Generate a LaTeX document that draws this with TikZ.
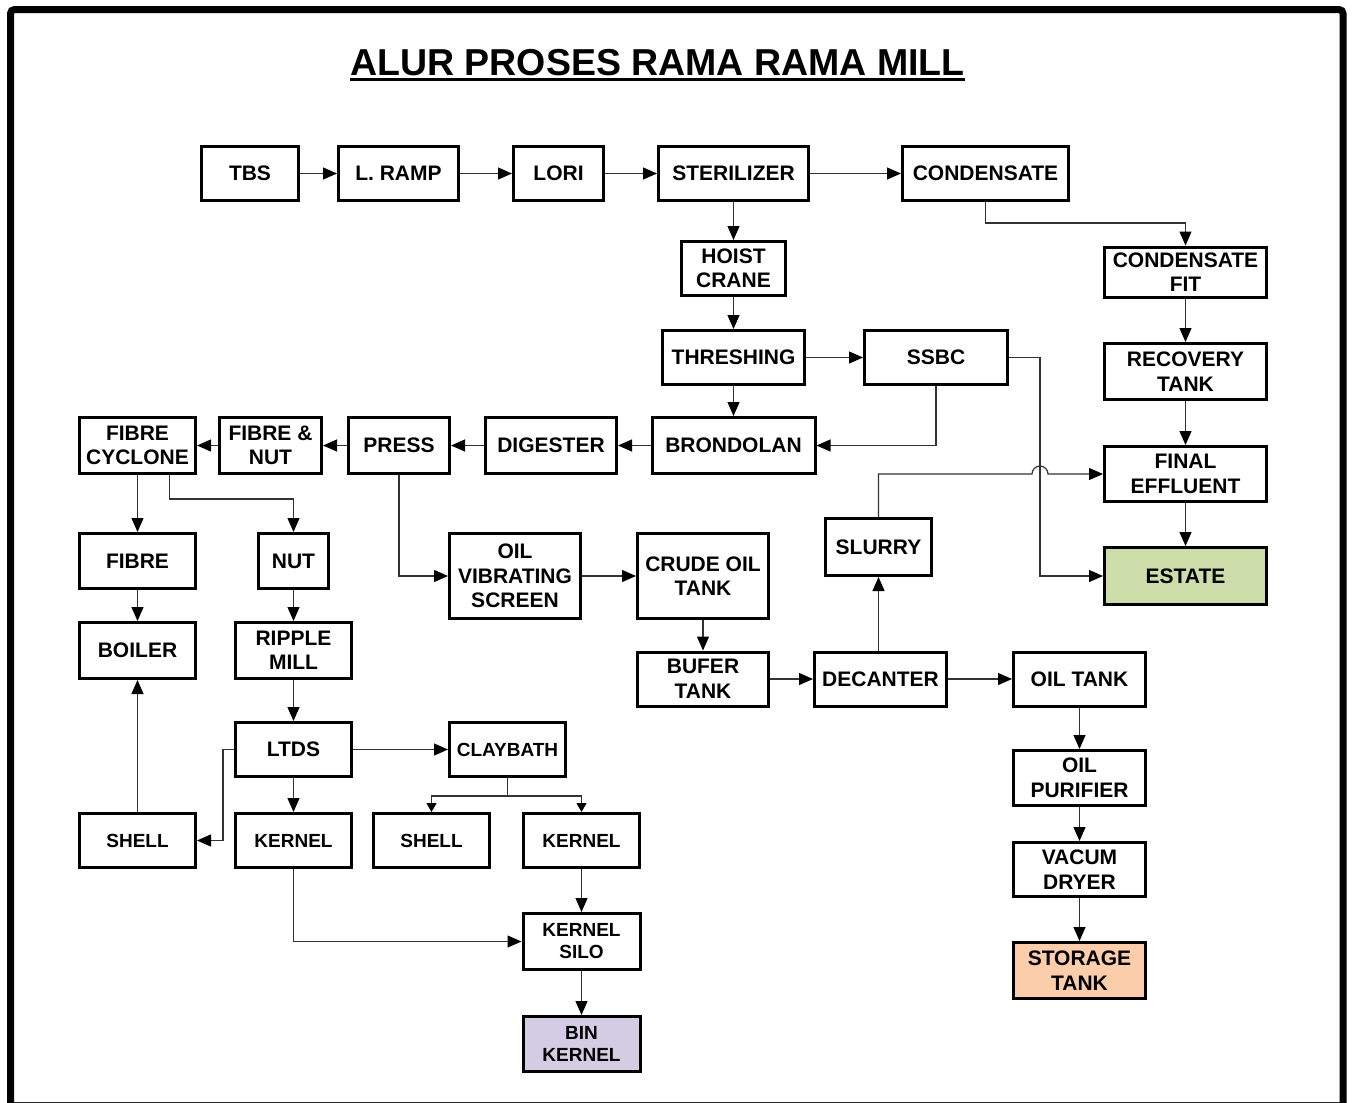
\documentclass[tikz,border=0pt]{standalone}
\usepackage{fontspec}
\setmainfont{Liberation Sans}
\usepackage{tikz}
\usetikzlibrary{arrows.meta, positioning}

\definecolor{estategreen}{RGB}{204,221,170}
\definecolor{storagepeach}{RGB}{251,205,170}
\definecolor{binlilac}{RGB}{211,204,226}

\begin{document}
\begin{tikzpicture}[
  x=1pt, y=-1pt,
  stage/.style={draw, line width=3pt, align=center, inner sep=0pt,
    minimum height=54pt, font=\fontsize{21}{24.5}\selectfont\bfseries},
  minor/.style={stage, font=\fontsize{19}{22}\selectfont\bfseries},
  flow/.style={draw=black!80, line width=1.2pt,
    -{Triangle[length=14pt, width=12pt, color=black]}},
  twig/.style={flow, -{Triangle[length=9pt, width=10pt, color=black]}},
  ]
  \useasboundingbox (0,0) rectangle (1353,1103);

  % --- page frame ---
  \draw[line width=7pt, rounded corners=4pt] (10.5,9.5) rectangle (1343,1115);
  \draw[line width=1pt, black!85] (14,1102) -- (1340,1102);

  % --- title ---
  \node[anchor=base, inner sep=0pt, font=\fontsize{37.5}{40}\selectfont\bfseries]
    (title) at (657.5,75) {ALUR PROSES RAMA RAMA MILL};
  \draw[line width=3pt] ([yshift=-4.5pt]title.base west) -- ([yshift=-4.5pt]title.base east);

  % --- receiving line ---
  \node[stage, minimum width=97pt]  (tbs)    at (250,173.5)   {TBS};
  \node[stage, minimum width=120pt] (lramp)  at (398.5,173.5) {L. RAMP};
  \node[stage, minimum width=90pt]  (lori)   at (558.5,173.5) {LORI};
  \node[stage, minimum width=150pt] (steril) at (733.5,173.5) {STERILIZER};
  \node[stage, minimum width=166pt] (cond)   at (985.5,173.5) {CONDENSATE};

  \node[stage, minimum width=104pt] (hoist)  at (733.5,268.5) {HOIST\\CRANE};
  \node[stage, minimum width=142pt] (thresh) at (733.5,357.5) {THRESHING};
  \node[stage, minimum width=143pt] (ssbc)   at (936,357.5)   {SSBC};

  % --- effluent column ---
  \node[stage, minimum width=162pt, minimum height=50pt] (condfit) at (1185.5,272) {CONDENSATE\\FIT};
  \node[stage, minimum width=162pt, minimum height=56pt] (recov)   at (1185.5,371.5) {RECOVERY\\TANK};
  \node[stage, minimum width=162pt, minimum height=55pt] (feff)    at (1185.5,474) {FINAL\\EFFLUENT};
  \node[stage, minimum width=162pt, minimum height=57pt, fill=estategreen] (estate) at (1185.5,576) {ESTATE};

  % --- pressing line ---
  \node[stage, minimum width=116pt, minimum height=56pt] (fcyc) at (137.5,445.5) {FIBRE\\CYCLONE};
  \node[stage, minimum width=102pt, minimum height=56pt] (fnut) at (270.5,445.5) {FIBRE \&\\NUT};
  \node[stage, minimum width=101pt, minimum height=56pt] (press)  at (399,445.5) {PRESS};
  \node[stage, minimum width=131pt, minimum height=56pt] (digest) at (551,445.5) {DIGESTER};
  \node[stage, minimum width=163pt, minimum height=56pt] (brond)  at (733.5,445.5) {BRONDOLAN};

  % --- oil line ---
  \node[stage, minimum width=131pt, minimum height=85pt] (ovs)   at (515,576) {OIL\\VIBRATING\\SCREEN};
  \node[stage, minimum width=131pt, minimum height=85pt] (crude) at (703,576) {CRUDE OIL\\TANK};
  \node[stage, minimum width=106pt, minimum height=57pt] (slurry) at (878.5,547) {SLURRY};
  \node[stage, minimum width=131pt] (bufer)   at (703,679)    {BUFER\\TANK};
  \node[stage, minimum width=132pt] (decant)  at (880.5,679)  {DECANTER};
  \node[stage, minimum width=132pt] (oiltank) at (1079.5,679) {OIL TANK};
  \node[stage, minimum width=132pt, minimum height=55pt] (purif) at (1079.5,778) {OIL\\PURIFIER};
  \node[stage, minimum width=132pt] (vacum) at (1079.5,869.5) {VACUM\\DRYER};
  \node[stage, minimum width=132pt, minimum height=56pt, fill=storagepeach] (storage) at (1079.5,970.5) {STORAGE\\TANK};

  % --- fibre and nut line ---
  \node[stage, minimum width=116pt, minimum height=55pt] (fibre)  at (137.5,561) {FIBRE};
  \node[stage, minimum width=70pt,  minimum height=55pt] (nut)    at (293.5,561) {NUT};
  \node[stage, minimum width=116pt, minimum height=56pt] (boiler) at (137.5,650.5) {BOILER};
  \node[stage, minimum width=116pt, minimum height=56pt] (ripple) at (293.5,650.5) {RIPPLE\\MILL};
  \node[stage, minimum width=116pt] (ltds) at (293.5,749.5) {LTDS};
  \node[minor, minimum width=116pt] (clay)   at (507.5,749.5) {CLAYBATH};
  \node[minor, minimum width=116pt] (shell1) at (137.5,840.5) {SHELL};
  \node[minor, minimum width=116pt] (kern1)  at (293.5,840.5) {KERNEL};
  \node[minor, minimum width=116pt] (shell2) at (431.5,840.5) {SHELL};
  \node[minor, minimum width=116pt] (kern2)  at (581.5,840.5) {KERNEL};
  \node[minor, minimum width=117pt, minimum height=56pt] (ksilo) at (581.5,941.5) {KERNEL\\SILO};
  \node[minor, minimum width=117pt, minimum height=55pt, fill=binlilac] (bin) at (581.5,1044) {BIN\\KERNEL};

  % --- connectors ---
  \draw[flow] (tbs) -- (lramp);
  \draw[flow] (lramp) -- (lori);
  \draw[flow] (lori) -- (steril);
  \draw[flow] (steril) -- (cond);
  \draw[flow] (steril) -- (hoist);
  \draw[flow] (cond.south) -- ++(0,21) -| (condfit.north);
  \draw[flow] (hoist) -- (thresh);
  \draw[flow] (condfit) -- (recov);
  \draw[flow] (recov) -- (feff);
  \draw[flow] (feff) -- (estate);
  \draw[flow] (thresh) -- (ssbc);
  \draw[flow] (thresh) -- (brond);
  \draw[flow] (ssbc.south) |- (brond.east);

  \coordinate (ssbcturn) at ([xshift=31pt]ssbc.east);
  \draw[flow] (ssbc.east) -- (ssbcturn) |- (estate.west);
  % slurry line hops over the SSBC line
  \draw[flow] (slurry.north) -- (slurry.north |- feff.west)
    -- ([xshift=-8pt]ssbcturn |- feff.west)
    arc[start angle=180, end angle=0, radius=8pt] -- (feff.west);

  \draw[flow] (brond) -- (digest);
  \draw[flow] (digest) -- (press);
  \draw[flow] (press) -- (fnut);
  \draw[flow] (fnut) -- (fcyc);
  \draw[flow] (press.south) |- (ovs.west);
  \draw[flow] (ovs) -- (crude);
  \draw[flow] (crude) -- (bufer);
  \draw[flow] (bufer) -- (decant);
  \draw[flow] (decant) -- (oiltank);
  \draw[flow] (slurry.south |- decant.north) -- (slurry.south);
  \draw[flow] (oiltank) -- (purif);
  \draw[flow] (purif) -- (vacum);
  \draw[flow] (vacum) -- (storage);

  \draw[flow] (fcyc) -- (fibre);
  \draw[flow] ([xshift=32pt]fcyc.south) -- ++(0,24) -| (nut.north);
  \draw[flow] (fibre) -- (boiler);
  \draw[flow] (nut) -- (ripple);
  \draw[flow] (ripple) -- (ltds);
  \draw[flow] (ltds) -- (clay);
  \draw[flow] (ltds) -- (kern1);
  \draw[flow] (ltds.west) -- ++(-11,0) |- (shell1.east);
  \draw[flow] (shell1) -- (boiler);
  \draw[twig] (clay.south) -- ++(0,18) -| (shell2.north);
  \draw[twig] (clay.south) -- ++(0,18) -| (kern2.north);
  \draw[flow] (kern2) -- (ksilo);
  \draw[flow] (kern1.south) |- (ksilo.west);
  \draw[flow] (ksilo) -- (bin);

\end{tikzpicture}
\end{document}
